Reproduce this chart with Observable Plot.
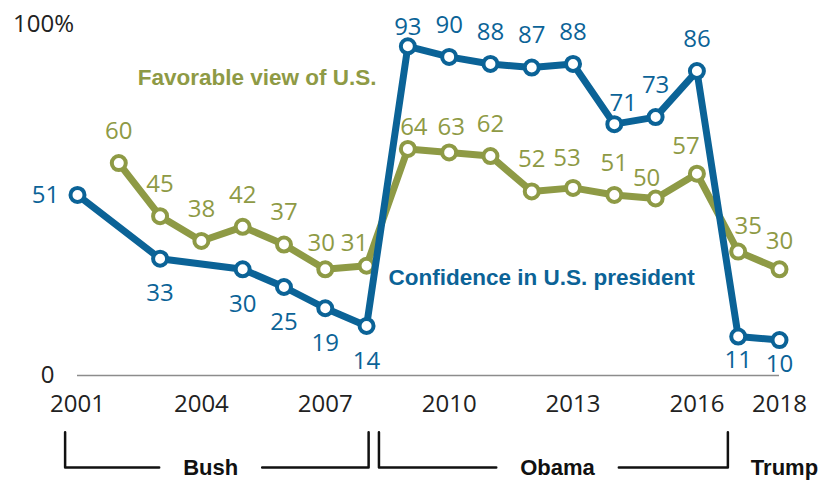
<!DOCTYPE html>
<html><head><meta charset="utf-8">
<script src="https://cdn.jsdelivr.net/npm/d3@7"></script>
<script src="https://cdn.jsdelivr.net/npm/@observablehq/plot@0.6"></script>
<style>body{margin:0;background:#fff}</style>
</head><body><div id="chart"></div>
<script>
// ---- data ----
const confYears  = [2001,2003,2005,2006,2007,2008,2009,2010,2011,2012,2013,2014,2015,2016,2017,2018];
const confValues = [51,33,30,25,19,14,93,90,88,87,88,71,73,86,11,10];
const favYears   = [2002,2003,2004,2005,2006,2007,2008,2009,2010,2011,2012,2013,2014,2015,2016,2017,2018];
const favValues  = [60,45,38,42,37,30,31,64,63,62,52,53,51,50,57,35,30];
const tickYears  = [2001,2004,2007,2010,2013,2016,2018];
const presidents = ["Bush","Obama","Trump"];
const termFirst  = [2001,2009,2017];
const termLast   = [2008,2016,2018];

// label placement codes (layout, separate from data)
const confPos = ["l","b","b","b","b","b","a2","a","a","a","a","ar","a","a","b2","b2"];
const favPos  = ["a","a","a","a","a","al","al2","ar2","a3","a","a","al3","a","al4","al5","ar3","a4"];
const offsets = {
  a:[0,-32], a2:[0,-19], a3:[2,-25], a4:[0,-28], b:[0,35], b2:[0,24], l:[-32,0],
  ar:[9,-21], al:[-4,-26], al2:[-12,-22], ar2:[6,-22], al3:[-6,-30], al4:[-9,-20],
  al5:[-11,-27], ar3:[10,-25]
};

const BLUE = "#0b6397", GREEN = "#8e9a45";
const FONT = "'Open Sans', sans-serif";
const BOLD = "'Liberation Sans', Arial, sans-serif";
const NUM = 24;

const conf = confYears.map((y,i)=>({year:y, value:confValues[i], pos:confPos[i]}));
const fav  = favYears.map((y,i)=>({year:y, value:favValues[i], pos:favPos[i]}));
const ticks = tickYears.map(y=>({year:y}));

const xDomain = [2001,2018], xRange = [77,779];
const pxPerYear = (xRange[1]-xRange[0])/(xDomain[1]-xDomain[0]);

// bracket layout (x edges in year units, y in value units below the axis)
const bTop = -16, bBot = -26;
const edges = [[termFirst[0]-0.3, termLast[0]+0.05],[termLast[0]+0.3, termFirst[2]-0.25]];
const ctx = document.createElement("canvas").getContext("2d");
ctx.font = "bold 22px 'Liberation Sans'";
const termLabels = presidents.map((p,i)=>({name:p,
  x: i<2 ? (edges[i][0]+edges[i][1])/2 - (i===0?0.15:-0.1) : termLast[i]+0.12}));
const bracketPts = [];
edges.forEach((e,k)=>{
  const half = (ctx.measureText(presidents[k]).width + 48)/2/pxPerYear;
  const cx = termLabels[k].x;
  [[e[0],bTop],[e[0],bBot],[cx-half,bBot]].forEach(p=>bracketPts.push({x:p[0],y:p[1],k:k+"a"}));
  [[cx+half,bBot],[e[1],bBot],[e[1],bTop]].forEach(p=>bracketPts.push({x:p[0],y:p[1],k:k+"b"}));
});

function labelMarks(data, color){
  return Object.keys(offsets).map(code=>Plot.text(data.filter(d=>d.pos===code),{
    x:"year", y:"value", text:d=>String(d.value), fill:color,
    dx:offsets[code][0], dy:offsets[code][1], fontSize:NUM, fontFamily:FONT
  }));
}

const chart = Plot.plot({
  width:820, height:481,
  marginTop:0, marginBottom:0, marginLeft:0, marginRight:0,
  x:{domain:xDomain, range:xRange, axis:null},
  y:{domain:[0,100], range:[375,21], axis:null},
  style:{fontFamily:FONT, background:"#fff", overflow:"visible"},
  marks:[
    Plot.ruleY([0],{x1:2001, x2:2018, stroke:"#8c8c8c", strokeWidth:1.5}),
    Plot.text(["0"],{x:2001, y:0, dx:-30, text:d=>d, fontSize:NUM, fill:"#222", fontFamily:FONT}),
    Plot.text(["100%"],{x:2001, y:100, dx:-34, dy:3, text:d=>d, fontSize:NUM, fill:"#222", fontFamily:FONT}),
    Plot.text(ticks,{x:"year", y:0, dy:29, text:d=>String(d.year), fontSize:NUM, fill:"#222", fontFamily:FONT}),
    Plot.line(bracketPts,{x:"x", y:"y", z:"k", stroke:"#111", strokeWidth:2.5, curve:"linear"}),
    Plot.text(termLabels,{x:"x", y:bBot, text:"name", fontSize:22, fontWeight:"bold", fill:"#111", fontFamily:BOLD}),
    Plot.line(fav,{x:"year", y:"value", stroke:GREEN, strokeWidth:7, strokeLinejoin:"round"}),
    Plot.dot(fav,{x:"year", y:"value", r:7, fill:"#fff", stroke:GREEN, strokeWidth:4}),
    Plot.line(conf,{x:"year", y:"value", stroke:BLUE, strokeWidth:7, strokeLinejoin:"round"}),
    Plot.dot(conf,{x:"year", y:"value", r:7, fill:"#fff", stroke:BLUE, strokeWidth:4}),
    ...labelMarks(fav, GREEN),
    ...labelMarks(conf, BLUE),
    Plot.text(["Favorable view of U.S."],{x:2005.35, y:84, text:d=>d, fill:GREEN, fontSize:22.5, fontWeight:"bold", fontFamily:BOLD}),
    Plot.text(["Confidence in U.S. president"],{x:2008.53, y:27.6, text:d=>d, fill:BLUE, fontSize:22.5, fontWeight:"bold",
      textAnchor:"start", fontFamily:BOLD})
  ]
});
document.getElementById("chart").appendChild(chart);
</script>
</body></html>
